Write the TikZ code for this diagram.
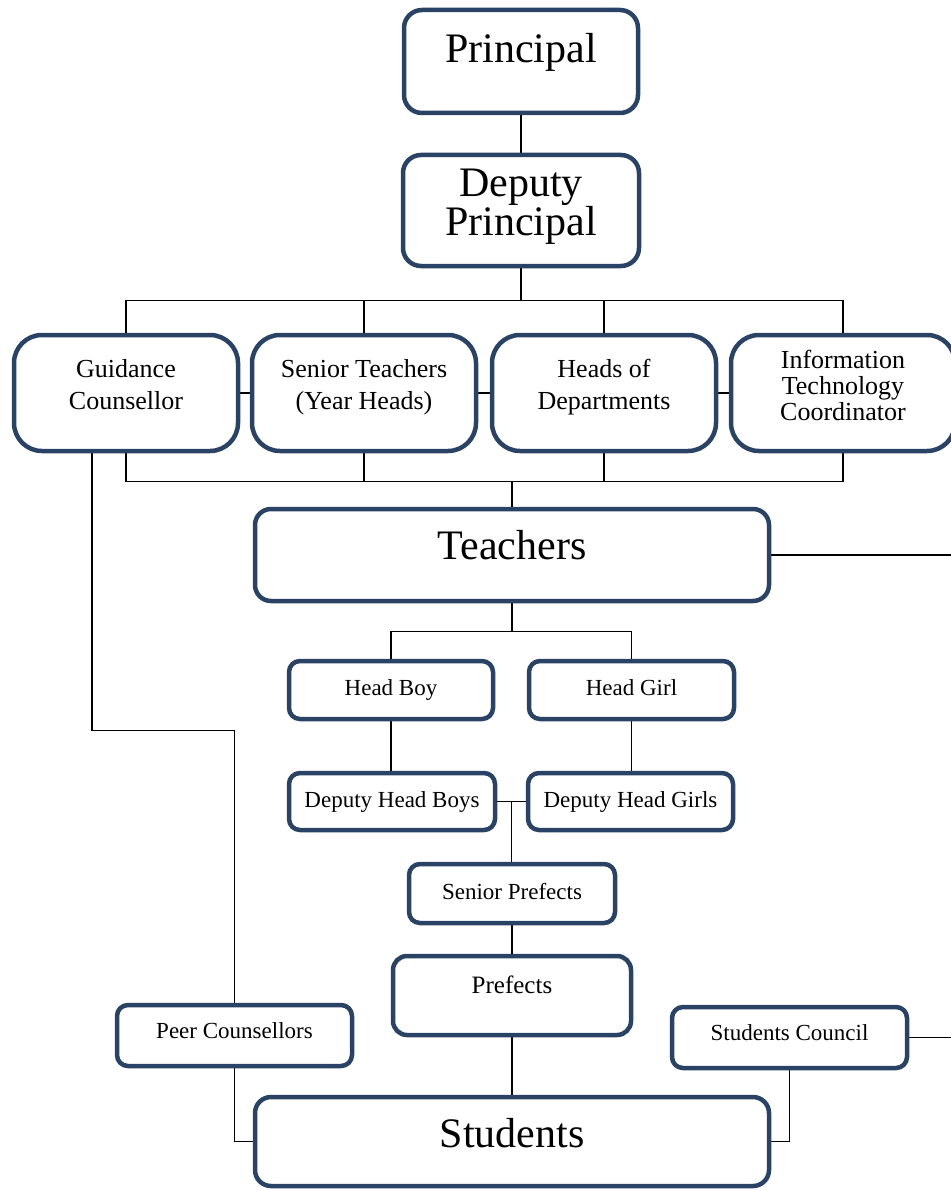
\documentclass[tikz,border=0pt]{standalone}
\usepackage{fontspec}
\setmainfont{Liberation Serif}
\usetikzlibrary{calc, backgrounds}
\definecolor{boxblue}{RGB}{42,67,101}
\tikzset{
    box/.style={draw=boxblue, line width=4.5pt, fill=white, align=center,
        inner sep=0pt, rounded corners=#1},
    box/.default=11pt,
    wh/.style 2 args={minimum width=#1, minimum height=#2},
    big/.style={font=\fontsize{42}{36}\selectfont},
    mid/.style={font=\fontsize{26}{32}\selectfont},
    small/.style={font=\fontsize{23}{27}\selectfont, text height=16pt, text depth=5pt},
    link/.style={draw=black, line width=1.5pt},
}
\begin{document}
\begin{tikzpicture}[x=1pt, y=-1pt]
    \useasboundingbox (0,0) rectangle (950,1190);

    % heads of school
    \node[box=18pt, big, wh={234}{103}, text depth=27pt] (prin) at (521,61.5) {Principal};
    \node[box=18pt, font=\fontsize{42}{32}\selectfont, wh={236}{111}, text depth=16pt] (dep) at (521,210.5)
        {Deputy\\Principal};

    % middle management
    \node[box=28pt, mid, wh={224}{116}, text depth=18pt] (guid) at (126,393) {Guidance\\Counsellor};
    \node[box=28pt, mid, wh={224}{116}, text depth=18pt] (senior) at (364,393) {Senior Teachers\\(Year Heads)};
    \node[box=28pt, mid, wh={224}{116}, text depth=18pt] (heads) at (604,393) {Heads of\\Departments};
    \node[box=28pt, font=\fontsize{26}{26}\selectfont, wh={224}{116}, text depth=15pt] (itc) at (843,393)
        {Information\\Technology\\Coordinator};

    \node[box=16pt, big, wh={514}{92}, text depth=21pt] (teach) at (512,555) {Teachers};

    % student leaders
    \node[box, small, wh={204}{58}] (hboy) at (391,690) {Head Boy};
    \node[box, small, wh={205}{58}] (hgirl) at (631.5,690) {Head Girl};
    \node[box, small, wh={206}{57}] (dhboy) at (392,801.5) {Deputy Head Boys};
    \node[box, small, wh={205}{57}] (dhgirl) at (630.5,801.5) {Deputy Head Girls};
    \node[box, small, wh={206}{59}] (sprf) at (512,893.5) {Senior Prefects};
    \node[box=14pt, font=\fontsize{25}{30}\selectfont, wh={238}{79}, text depth=22pt] (prf) at (512,995.5) {Prefects};
    \node[box, small, wh={235}{61}, text depth=10pt] (peer) at (234.5,1035.5) {Peer Counsellors};
    \node[box, small, wh={235}{61}, text depth=11pt] (council) at (789.5,1037.5) {Students Council};

    \node[box=16pt, big, wh={514}{89}, text depth=18pt] (stud) at (512,1141.5) {Students};

    \begin{scope}[on background layer]
        \draw[link] (prin) -- (dep);

        % bus above and below the four offices
        \foreach \n in {guid,senior,heads,itc}
        {
            \draw[link] (dep.south) -- ++(0,32) -| (\n.north);
            \draw[link] (\n.south) -- ++(0,28) -| (teach.north);
        }
        \foreach \a/\b in {guid/senior, senior/heads, heads/itc}
            \draw[link] (\a.east) -- (\b.west);

        \draw[link] ([xshift=-34pt]guid.south) -- ++(0,277) -| (peer.north);
        \draw[link] (teach.east) -- ++(190,0) |- (council.east);

        \foreach \n in {hboy,hgirl}
            \draw[link] (teach.south) -- ++(0,28) -| (\n.north);
        \draw[link] (hboy.south) -- (hboy.south |- dhboy.north);
        \draw[link] (hgirl.south) -- (hgirl.south |- dhgirl.north);

        \draw[link] (dhboy.east) -- (dhgirl.west);
        \coordinate (dmid) at ($(dhboy.east)!0.5!(dhgirl.west)$);
        \draw[link] (dmid) -- (dmid |- sprf.north);
        \draw[link] (sprf) -- (prf);
        \draw[link] (prf) -- (stud);

        \draw[link] (peer.south) |- (stud.west);
        \draw[link] (council.south) |- (stud.east);
    \end{scope}
\end{tikzpicture}
\end{document}
